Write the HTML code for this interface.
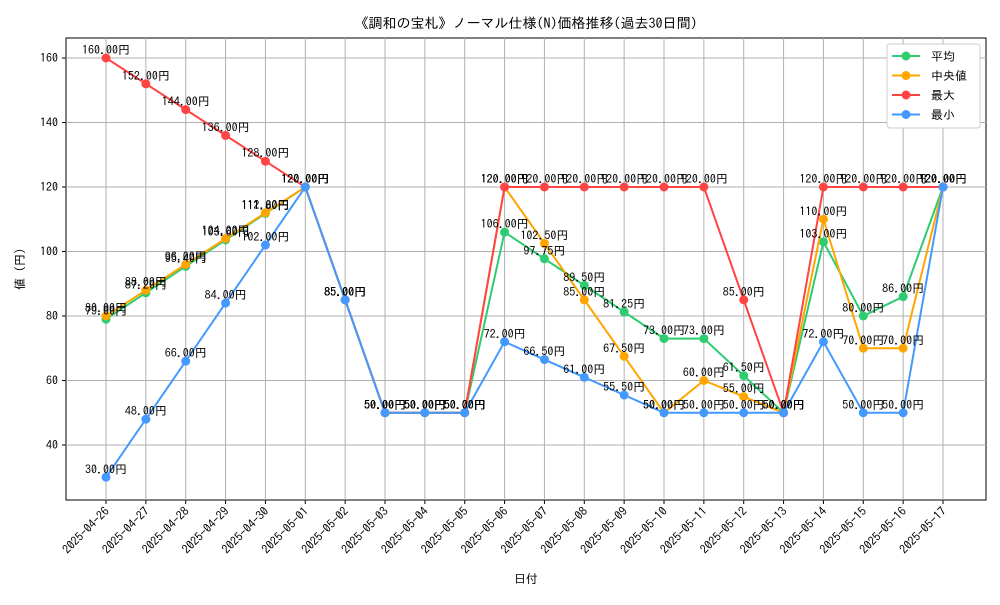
<!DOCTYPE html>
<html><head><meta charset="utf-8">
<style>
body{margin:0;background:#fff;}
svg text{font-family:"IPAGothic","Noto Sans CJK JP",sans-serif;}
</style></head>
<body>
<svg id="chart" width="1000" height="600" xmlns="http://www.w3.org/2000/svg">
<text x="526" y="28" font-size="14" text-anchor="middle" fill="#000">《調和の宝札》ノーマル仕様(N)価格推移(過去30日間)</text>
<rect x="66" y="38" width="920" height="462" fill="none" stroke="#000" stroke-width="1"/>
<g id="grid"></g><g id="axes"></g><g id="series"></g><g id="labels"></g>
<text x="526" y="583" font-size="12" text-anchor="middle">日付</text>
<text transform="translate(24,269) rotate(-90)" font-size="12" text-anchor="middle">値 (円)</text>
<g>
<rect x="887" y="44" width="93" height="84" rx="3" fill="#fff" stroke="#ccc"/>
<g id="legend"></g>
</g>
</svg>
<script>
const categories=["2025-04-26","2025-04-27","2025-04-28","2025-04-29","2025-04-30","2025-05-01","2025-05-02","2025-05-03","2025-05-04","2025-05-05","2025-05-06","2025-05-07","2025-05-08","2025-05-09","2025-05-10","2025-05-11","2025-05-12","2025-05-13","2025-05-14","2025-05-15","2025-05-16","2025-05-17"];
const avgValues=[79,87.2,95.4,103.6,111.8,120,85,50,50,50,106,97.75,89.5,81.25,73,73,61.5,50,103,80,86,120];
const medianValues=[80,88,96,104,112,120,85,50,50,50,120,102.5,85,67.5,50,60,55,50,110,70,70,120];
const maxValues=[160,152,144,136,128,120,85,50,50,50,120,120,120,120,120,120,85,50,120,120,120,120];
const minValues=[30,48,66,84,102,120,85,50,50,50,72,66.5,61,55.5,50,50,50,50,72,50,50,120];
const yTicks=[40,60,80,100,120,140,160];
const seriesNames=["平均","中央値","最大","最小"];
const seriesColors=["#2ecc71","#ffa500","#ff4444","#4499ff"];
const NS="http://www.w3.org/2000/svg";
const xS=i=>106+i*(943-106)/21;
const yS=v=>58+(160-v)*(387/120);
function mk(tag,attrs,parent){const e=document.createElementNS(NS,tag);for(const k in attrs)e.setAttribute(k,attrs[k]);parent.appendChild(e);return e;}
const grid=document.getElementById('grid'),axes=document.getElementById('axes');
yTicks.forEach(t=>{
 const l=mk('line',{x1:66,x2:986,y1:yS(t),y2:yS(t),stroke:'#b0b0b0','stroke-width':1},grid);
 
 
 const tk=mk('line',{x1:62,x2:66,y1:yS(t),y2:yS(t),stroke:'#000'},axes);
 
 
 const tx=mk('text',{x:58,y:yS(t)+4,'font-size':12,'text-anchor':'end'},axes);
 
 
 tx.textContent=t;
});
categories.forEach((c,i)=>{
 const x=xS(i);
 const l=mk('line',{x1:x,x2:x,y1:38,y2:500,stroke:'#b0b0b0','stroke-width':1},grid);
 
 
 const tk=mk('line',{x1:x,x2:x,y1:500,y2:504,stroke:'#000'},axes);
 
 
 const tx=mk('text',{x:0,y:0,'font-size':12,'text-anchor':'end',transform:`translate(${x+4},${512}) rotate(-45)`},axes);
 
 
 tx.textContent=c;
});
const all=[avgValues,medianValues,maxValues,minValues];
const sg=document.getElementById('series'),lg=document.getElementById('labels');
all.forEach((vals,s)=>{
 const pts=vals.map((v,i)=>xS(i)+','+yS(v)).join(' ');
 const pl=mk('polyline',{points:pts,fill:'none',stroke:seriesColors[s],'stroke-width':2},sg);
 
 
 vals.forEach((v,i)=>{
  const c=mk('circle',{cx:xS(i),cy:yS(v),r:4.5,fill:seriesColors[s]},sg);
  
  
  const t=mk('text',{x:xS(i),y:yS(v)-4,'font-size':12,'text-anchor':'middle',fill:'#000'},lg);
  
  
  t.textContent=v.toFixed(2)+'円';
 });
});
const leg=document.getElementById('legend');
seriesNames.forEach((n,i)=>{
 const y=56+i*19.5;
 const l=mk('line',{x1:892,x2:920,y1:y,y2:y,stroke:seriesColors[i],'stroke-width':2},leg);
 
 
 const c=mk('circle',{cx:906,cy:y,r:4.5,fill:seriesColors[i]},leg);
 
 
 const t=mk('text',{x:931,y:y+4.5,'font-size':12},leg);
 
 
 t.textContent=(i==1?' ':'')+n;
});
</script>
</body></html>
